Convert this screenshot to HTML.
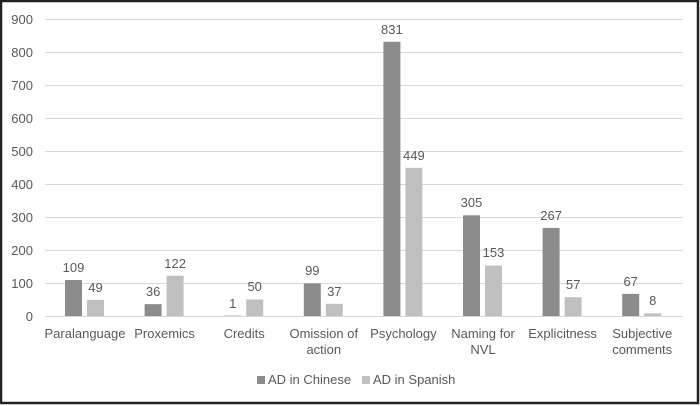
<!DOCTYPE html><html><head><style>body{margin:0;background:#fff}svg{display:block}text{font-family:"Liberation Sans",sans-serif;fill:#595959;font-size:13px}</style></head><body>
<svg width="700" height="406" xmlns="http://www.w3.org/2000/svg">
<rect x="1" y="1" width="697" height="402" fill="#fff" stroke="#222" stroke-width="2.5"/>
<g stroke="#d9d9d9" stroke-width="1">
<line x1="45" x2="683" y1="19.5" y2="19.5"/><line x1="45" x2="683" y1="52.5" y2="52.5"/><line x1="45" x2="683" y1="85.5" y2="85.5"/><line x1="45" x2="683" y1="118.5" y2="118.5"/><line x1="45" x2="683" y1="151.5" y2="151.5"/><line x1="45" x2="683" y1="184.5" y2="184.5"/><line x1="45" x2="683" y1="217.5" y2="217.5"/><line x1="45" x2="683" y1="250.5" y2="250.5"/><line x1="45" x2="683" y1="283.5" y2="283.5"/><line x1="45" x2="683" y1="316.5" y2="316.5"/>
</g>
<g text-anchor="end">
<text x="33" y="24">900</text><text x="33" y="57">800</text><text x="33" y="90">700</text><text x="33" y="123">600</text><text x="33" y="156">500</text><text x="33" y="189">400</text><text x="33" y="222">300</text><text x="33" y="255">200</text><text x="33" y="288">100</text><text x="33" y="321">0</text>
</g>
<g fill="#8c8c8c">
<rect x="65" y="280.03" width="17" height="35.97"/>
<rect x="144.6" y="304.12" width="17" height="11.88"/>
<rect x="224.2" y="315.67" width="17" height="0.33"/>
<rect x="303.8" y="283.33" width="17" height="32.67"/>
<rect x="383.4" y="41.77" width="17" height="274.23"/>
<rect x="463" y="215.35" width="17" height="100.65"/>
<rect x="542.6" y="227.89" width="17" height="88.11"/>
<rect x="622.2" y="293.89" width="17" height="22.11"/>
</g>
<g fill="#c0c0c0">
<rect x="87" y="299.83" width="17" height="16.17"/>
<rect x="166.6" y="275.74" width="17" height="40.26"/>
<rect x="246.2" y="299.5" width="17" height="16.5"/>
<rect x="325.8" y="303.79" width="17" height="12.21"/>
<rect x="405.4" y="167.83" width="17" height="148.17"/>
<rect x="485" y="265.51" width="17" height="50.49"/>
<rect x="564.6" y="297.19" width="17" height="18.81"/>
<rect x="644.2" y="313.36" width="17" height="2.64"/>
</g>
<g text-anchor="middle">
<text x="73.5" y="272">109</text><text x="95.5" y="292">49</text>
<text x="153.1" y="296">36</text><text x="175.1" y="268">122</text>
<text x="232.7" y="308">1</text><text x="254.7" y="291">50</text>
<text x="312.3" y="275">99</text><text x="334.3" y="296">37</text>
<text x="391.9" y="34">831</text><text x="413.9" y="160">449</text>
<text x="471.5" y="207">305</text><text x="493.5" y="257">153</text>
<text x="551.1" y="220">267</text><text x="573.1" y="289">57</text>
<text x="630.7" y="286">67</text><text x="652.7" y="305">8</text>
<text x="85" y="338">Paralanguage</text>
<text x="164.6" y="338">Proxemics</text>
<text x="244.2" y="338">Credits</text>
<text x="323.8" y="338">Omission of</text><text x="323.8" y="354">action</text>
<text x="403.4" y="338">Psychology</text>
<text x="483" y="338">Naming for</text><text x="483" y="354">NVL</text>
<text x="562.6" y="338">Explicitness</text>
<text x="642.2" y="338">Subjective</text><text x="642.2" y="354">comments</text>
</g>
<rect x="257" y="376" width="8" height="8" fill="#8c8c8c"/><text x="268" y="384">AD in Chinese</text>
<rect x="362" y="376" width="8" height="8" fill="#c0c0c0"/><text x="373" y="384">AD in Spanish</text>
</svg></body></html>
